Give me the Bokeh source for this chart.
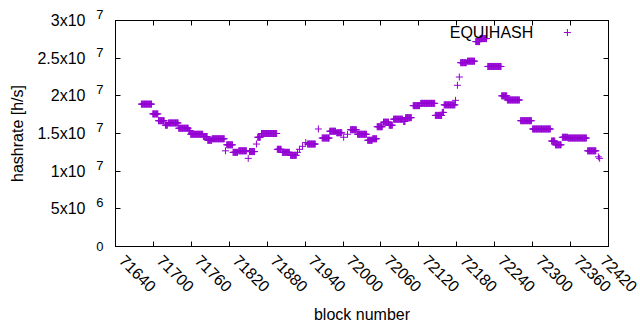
import numpy as np
from bokeh.plotting import figure
from bokeh.models import FixedTicker, LinearAxis, Range1d, Label, CustomJSTickFormatter
from bokeh.embed import file_html
from bokeh.resources import INLINE

# Hashrate runs: (first block, last block, hashrate in 1e7 h/s)
seg_start = [71681, 71699, 71708, 71719, 71724, 71740, 71756, 71759, 71779, 71786,
             71793, 71814, 71816, 71826, 71835, 71850, 71852, 71863, 71865, 71871,
             71896, 71904, 71917, 71928, 71931, 71936, 71941, 71944, 71961, 71967,
             71979, 71990, 72001, 72007, 72012, 72023, 72039, 72047, 72054, 72064,
             72073, 72080, 72096, 72099, 72111, 72123, 72146, 72157, 72160, 72178,
             72181, 72184, 72186, 72197, 72210, 72217, 72229, 72251, 72260, 72281,
             72300, 72330, 72336, 72347, 72356, 72387, 72404, 72406]
seg_end = [71697, 71707, 71717, 71722, 71739, 71755, 71758, 71778, 71785, 71792,
           71812, 71814, 71825, 71833, 71847, 71850, 71860, 71863, 71869, 71895,
           71902, 71915, 71926, 71928, 71931, 71936, 71941, 71956, 71961, 71978,
           71988, 71998, 72001, 72007, 72021, 72037, 72046, 72053, 72062, 72072,
           72078, 72094, 72098, 72108, 72121, 72145, 72156, 72159, 72177, 72178,
           72181, 72184, 72195, 72208, 72216, 72227, 72250, 72259, 72279, 72298,
           72328, 72335, 72345, 72355, 72385, 72400, 72404, 72406]
seg_value = [1.89, 1.76, 1.67, 1.61, 1.64, 1.57, 1.54, 1.49, 1.46, 1.41,
             1.43, 1.27, 1.35, 1.25, 1.27, 1.17, 1.26, 1.36, 1.45, 1.50,
             1.29, 1.25, 1.21, 1.25, 1.29, 1.33, 1.38, 1.36, 1.56, 1.44,
             1.53, 1.51, 1.45, 1.49, 1.55, 1.49, 1.41, 1.43, 1.59, 1.65,
             1.61, 1.69, 1.66, 1.71, 1.87, 1.90, 1.74, 1.78, 1.88, 1.94,
             2.14, 2.25, 2.44, 2.46, 2.72, 2.76, 2.39, 2.00, 1.945, 1.67,
             1.56, 1.40, 1.35, 1.45, 1.44, 1.27, 1.19, 1.17]

x_ticks = [71640, 71700, 71760, 71820, 71880, 71940, 72000, 72060,
           72120, 72180, 72240, 72300, 72360, 72420]
x_tick_labels = [str(t) for t in x_ticks]
y_ticks = [0, 5000000, 10000000, 15000000, 20000000, 25000000, 30000000]
y_tick_mantissa = ["", "5x10", "1x10", "1.5x10", "2x10", "2.5x10", "3x10"]
y_tick_exponent = ["0", "6", "7", "7", "7", "7", "7"]

series_name = "EQUIHASH"
legend_text_pos = (72301, 2.84e7)
legend_mark_pos = (72355, 2.84e7)

blocks = np.concatenate([np.arange(s, e + 1) for s, e in zip(seg_start, seg_end)])
rates = np.concatenate([np.full(e - s + 1, v * 1e7) for s, e, v in zip(seg_start, seg_end, seg_value)])

COLOR = "#9400d3"
FONT = "Liberation Sans"
FS = "16px"
FS_EXP = "13px"
LEAD = "\u00a0" * 2  # gnuplot starts rotated tick texts just right of the tick

p = figure(width=640, height=330, output_backend="svg", toolbar_location=None,
           x_range=Range1d(71640, 72420), y_range=Range1d(0, 3e7),
           min_border_left=115, min_border_right=32, min_border_top=20,
           min_border_bottom=84)
p.grid.visible = False
p.outline_line_color = "black"
p.outline_line_width = 1
p.background_fill_color = "white"
p.border_fill_color = "white"

blank = CustomJSTickFormatter(code="return ''")


def style(ax, fs=FS):
    ax.minor_tick_line_color = None
    ax.major_label_text_font = FONT
    ax.major_label_text_font_size = fs
    ax.major_label_text_color = "black"
    ax.axis_label_text_font = FONT
    ax.axis_label_text_font_size = FS
    ax.axis_label_text_font_style = "normal"
    ax.axis_label_text_color = "black"


xa = p.xaxis[0]
xa.ticker = FixedTicker(ticks=x_ticks)
xa.major_label_overrides = {t: LEAD + lab for t, lab in zip(x_ticks, x_tick_labels)}
xa.major_label_orientation = -np.pi / 4
xa.major_tick_in = 5
xa.major_tick_out = 0
xa.major_label_standoff = 5
xa.axis_label = "block number"
xa.axis_label_standoff = 2
style(xa)

# y axis: inner one draws ticks and exponents, outer one the mantissas
ya = p.yaxis[0]
ya.ticker = FixedTicker(ticks=y_ticks)
ya.major_label_overrides = {t: (e if t == 0 else e + "\n") for t, e in zip(y_ticks, y_tick_exponent)}
ya.major_tick_in = 5
ya.major_tick_out = 0
ya.major_label_standoff = 12
ya.major_label_text_line_height = 0.8
style(ya, FS_EXP)

yl = LinearAxis(ticker=FixedTicker(ticks=y_ticks),
                major_label_overrides={t: m for t, m in zip(y_ticks, y_tick_mantissa)},
                major_tick_line_color=None, major_tick_in=0, major_tick_out=0,
                axis_line_color=None, major_label_standoff=8,
                axis_label="hashrate [h/s]", axis_label_standoff=8)
style(yl)
p.add_layout(yl, "left")

top = LinearAxis(ticker=FixedTicker(ticks=x_ticks), formatter=blank,
                 major_tick_in=5, major_tick_out=0, minor_tick_line_color=None,
                 major_label_standoff=0, major_label_text_font_size="1px")
right = LinearAxis(ticker=FixedTicker(ticks=y_ticks), formatter=blank,
                   major_tick_in=5, major_tick_out=0, minor_tick_line_color=None,
                   major_label_standoff=0, major_label_text_font_size="1px")
p.add_layout(top, "above")
p.add_layout(right, "right")

p.scatter(blocks, rates, marker="cross", size=7, line_width=1, color=COLOR)

p.add_layout(Label(x=legend_text_pos[0], y=legend_text_pos[1], text=series_name,
                   text_align="right", text_baseline="middle", text_font=FONT,
                   text_font_size=FS, text_color="black"))
p.scatter([legend_mark_pos[0]], [legend_mark_pos[1]], marker="cross", size=7,
          line_width=1, color=COLOR)

open("out.html", "w").write(file_html(p, INLINE))
